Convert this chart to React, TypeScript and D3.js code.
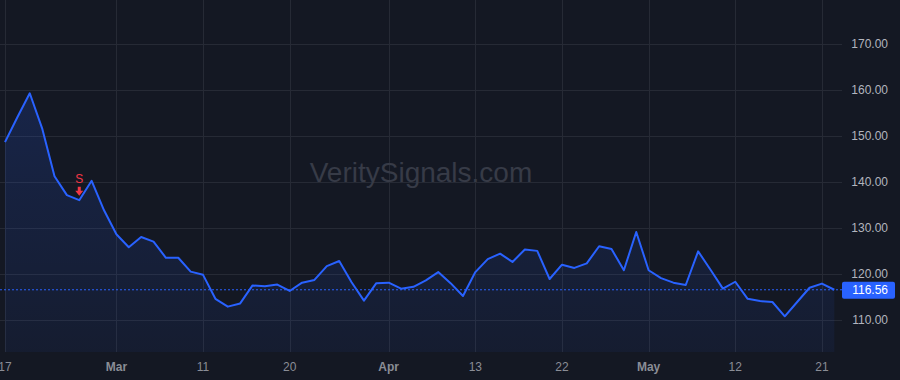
import React from "react";
import * as d3 from "d3";

const prices: number[] = [
  148.6, 154.0, 159.2, 151.6, 141.2, 137.1, 136.0, 140.2, 133.8, 128.6,
  125.8, 128.0, 127.0, 123.5, 123.5, 120.5, 119.8, 114.6, 112.9, 113.6,
  117.5, 117.3, 117.7, 116.3, 118.1, 118.7, 121.7, 122.8, 118.2, 114.2,
  118.0, 118.1, 116.8, 117.2, 118.6, 120.4, 118.0, 115.2, 120.4, 123.2,
  124.4, 122.6, 125.3, 125.0, 118.9, 122.0, 121.3, 122.3, 126.0, 125.4,
  120.8, 129.1, 120.8, 119.1, 118.1, 117.6, 124.9, 120.9, 116.8, 118.3,
  114.6, 114.1, 113.9, 110.8, 113.9, 117.0, 117.9, 116.56,
];

const xTickIndex: number[] = [0, 9, 16, 23, 31, 38, 45, 52, 59, 66];
const xTickLabels: string[] = ["17", "Mar", "11", "20", "Apr", "13", "22", "May", "12", "21"];
const xTickBold: boolean[] = [false, true, false, false, true, false, false, true, false, false];

const yTicks: number[] = [110, 120, 130, 140, 150, 160, 170];

const signalIndex: number[] = [6];
const signalLabels: string[] = ["S"];

const lastPrice = 116.56;

const W = 900;
const H = 380;
const PLOT_RIGHT = 842;
const PLOT_BOTTOM = 352;

export default function App() {
  const x = d3.scaleLinear().domain([0, prices.length - 1]).range([5, 834.3]);
  const y = d3.scaleLinear().domain([110, 170]).range([320, 43.5]);

  const line = d3
    .line<number>()
    .x((_, i) => x(i))
    .y((d) => y(d));
  const area = d3
    .area<number>()
    .x((_, i) => x(i))
    .y0(PLOT_BOTTOM)
    .y1((d) => y(d));

  const font = "'Liberation Sans', Arial, sans-serif";
  const yLast = y(lastPrice);

  return (
    <svg
      width={W}
      height={H}
      style={{ position: "fixed", left: 0, top: 0, display: "block" }}
    >
      <defs>
        <linearGradient id="fillGrad" x1="0" y1="0" x2="0" y2="1">
          <stop offset="0%" stopColor="#2962ff" stopOpacity={0.17} />
          <stop offset="100%" stopColor="#2962ff" stopOpacity={0.06} />
        </linearGradient>
        <clipPath id="plotClip">
          <rect x={0} y={0} width={PLOT_RIGHT} height={PLOT_BOTTOM} />
        </clipPath>
      </defs>
      <rect x={0} y={0} width={W} height={H} fill="#141823" />

      {/* grid */}
      {yTicks.map((t) => (
        <line
          key={"hg" + t}
          x1={0}
          x2={PLOT_RIGHT}
          y1={Math.round(y(t)) + 0.5}
          y2={Math.round(y(t)) + 0.5}
          stroke="#262a35"
          strokeWidth={1}
        />
      ))}
      {xTickIndex.map((i) => (
        <line
          key={"vg" + i}
          x1={Math.round(x(i)) + 0.5}
          x2={Math.round(x(i)) + 0.5}
          y1={0}
          y2={PLOT_BOTTOM}
          stroke="#262a35"
          strokeWidth={1}
        />
      ))}

      {/* watermark */}
      <text
        x={421}
        y={182}
        textAnchor="middle"
        fontFamily={font}
        fontSize={28}
        fill="#373b47"
      >
        VeritySignals.com
      </text>

      <g clipPath="url(#plotClip)">
        <path d={area(prices) || ""} fill="url(#fillGrad)" />
        <line
          x1={0}
          x2={PLOT_RIGHT}
          y1={yLast}
          y2={yLast}
          stroke="#2962ff"
          strokeWidth={1}
          strokeDasharray="2 2"
        />
        <path
          d={line(prices) || ""}
          fill="none"
          stroke="#2962ff"
          strokeWidth={2}
          strokeLinejoin="round"
        />
      </g>

      {/* signals */}
      {signalIndex.map((i, k) => {
        const cx = x(i);
        const top = y(prices[i]) - 13.5;
        return (
          <g key={"sig" + i}>
            <text
              x={cx}
              y={top - 4}
              textAnchor="middle"
              fontFamily={font}
              fontSize={12}
              fill="#f23645"
            >
              {signalLabels[k]}
            </text>
            <path
              d={`M${cx - 1.5},${top} L${cx + 1.5},${top} L${cx + 1.5},${top + 4} L${cx + 4},${top + 4} L${cx},${top + 9} L${cx - 4},${top + 4} L${cx - 1.5},${top + 4} Z`}
              fill="#f23645"
            />
          </g>
        );
      })}

      {/* y axis labels */}
      {yTicks.map((t) => (
        <text
          key={"yl" + t}
          x={888}
          y={y(t) + 4}
          textAnchor="end"
          fontFamily={font}
          fontSize={12}
          fill="#b2b5be"
        >
          {t.toFixed(2)}
        </text>
      ))}

      {/* last price label */}
      <rect x={842} y={yLast - 8} width={53} height={17} rx={2} fill="#2962ff" />
      <text
        x={888}
        y={yLast + 4.5}
        textAnchor="end"
        fontFamily={font}
        fontSize={12}
        fill="#ffffff"
      >
        {lastPrice.toFixed(2)}
      </text>

      {/* x axis labels */}
      {xTickIndex.map((i, k) => (
        <text
          key={"xl" + i}
          x={x(i)}
          y={371}
          textAnchor="middle"
          fontFamily={font}
          fontSize={12}
          fontWeight={xTickBold[k] ? "bold" : "normal"}
          fill="#8a8d96"
        >
          {xTickLabels[k]}
        </text>
      ))}
    </svg>
  );
}
